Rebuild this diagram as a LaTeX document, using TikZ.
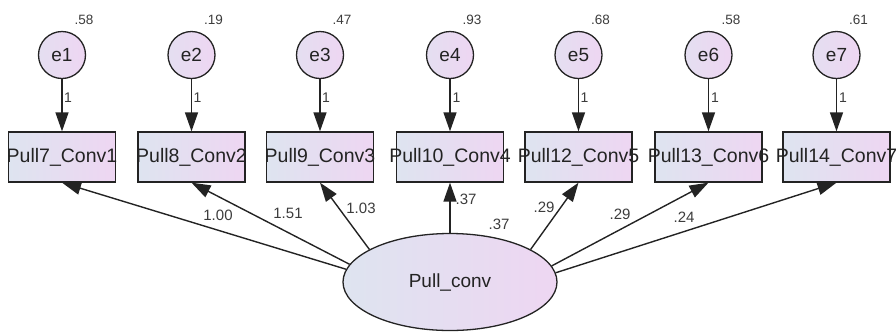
\documentclass[tikz,border=0pt]{standalone}
\usepackage{fontspec}
\setmainfont{Liberation Sans}
\usetikzlibrary{arrows.meta,shapes.geometric}
\definecolor{fillA}{RGB}{222,228,240}
\definecolor{fillB}{RGB}{238,214,242}
\definecolor{ink}{RGB}{35,35,35}
\definecolor{lab}{RGB}{60,60,60}
\newcommand{\zw}[1]{\makebox[0pt][c]{#1}}
\tikzset{
  obsbox/.style={draw=ink, line width=1.3pt, rectangle, minimum width=107pt, minimum height=50pt, inner sep=0pt,
    left color=fillA, right color=fillB, font=\fontsize{19.5}{19.5}\selectfont, text=ink},
  errc/.style={draw=ink, line width=1.3pt, circle, minimum size=47pt, inner sep=0pt,
    left color=fillA!60!fillB, right color=fillB, font=\fontsize{19}{19}\selectfont, text=ink},
  latent/.style={draw=ink, line width=1.3pt, ellipse, minimum width=214pt, minimum height=97pt, inner sep=0pt,
    left color=fillA, right color=fillB, font=\fontsize{19}{19}\selectfont, text=ink},
  arr/.style={draw=ink, line width=1.4pt, -{Triangle[length=19pt,width=13pt]}},
  varlab/.style={font=\fontsize{13.5}{13.5}\selectfont, text=lab, inner sep=0pt},
  onelab/.style={font=\fontsize{14}{14}\selectfont, text=lab, inner sep=0pt},
  wlab/.style={font=\fontsize{15}{15}\selectfont, text=lab, inner sep=0pt},
}
\begin{document}
\begin{tikzpicture}[x=1pt,y=-1pt]
\useasboundingbox (0,0) rectangle (896,333);
% observed boxes
\node[obsbox] (b1) at (62,157) {\zw{Pull7\_Conv1}};
\node[obsbox] (b2) at (191.5,157) {\zw{Pull8\_Conv2}};
\node[obsbox] (b3) at (320,157) {\zw{Pull9\_Conv3}};
\node[obsbox] (b4) at (450,157) {\zw{Pull10\_Conv4}};
\node[obsbox] (b5) at (578.5,157) {\zw{Pull12\_Conv5}};
\node[obsbox] (b6) at (708.5,157) {\zw{Pull13\_Conv6}};
\node[obsbox] (b7) at (836.5,157) {\zw{Pull14\_Conv7}};
% error circles
\node[errc] (e1) at (62,55) {e1};
\node[errc] (e2) at (191.5,55) {e2};
\node[errc] (e3) at (320,55) {e3};
\node[errc] (e4) at (450,55) {e4};
\node[errc] (e5) at (578.5,55) {e5};
\node[errc] (e6) at (708.5,55) {e6};
\node[errc] (e7) at (836.5,55) {e7};
% variances
\node[varlab] (v1) at (84,20) {.58};
\node[varlab] (v2) at (213.5,20) {.19};
\node[varlab] (v3) at (342,20) {.47};
\node[varlab] (v4) at (472,20) {.93};
\node[varlab] (v5) at (600.5,20) {.68};
\node[varlab] (v6) at (731,20) {.58};
\node[varlab] (v7) at (858.5,20) {.61};
% error arrows
\foreach \i in {1,...,7}{
  \draw[arr] (e\i) -- (b\i);
}
\node[onelab] (o1) at (68,98) {1};
\node[onelab] (o2) at (197.5,98) {1};
\node[onelab] (o3) at (326,98) {1};
\node[onelab] (o4) at (456.5,98) {1};
\node[onelab] (o5) at (584.5,98) {1};
\node[onelab] (o6) at (715,98) {1};
\node[onelab] (o7) at (843,98) {1};
% latent
\node[latent] (pc) at (450,282) {Pull\_conv};
\draw[arr] (pc.173) -- (b1.south);
\draw[arr] (pc.170) -- (b2.south);
\draw[arr] (pc.158) -- (b3.south);
\draw[arr] (pc.90) -- (b4.south);
\draw[arr] (pc.22) -- (b5.south);
\draw[arr] (pc.9) -- (b6.south);
\draw[arr] (pc.5) -- (b7.south);
% loadings
\node[wlab] (w1) at (218,215) {1.00};
\node[wlab] (w2) at (288,213) {1.51};
\node[wlab] (w3) at (361,208) {1.03};
\node[wlab] (w4) at (466,199) {.37};
\node[wlab] (w4b) at (499,224) {.37};
\node[wlab] (w5) at (544,207) {.29};
\node[wlab] (w6) at (620,214) {.29};
\node[wlab] (w7) at (684,217) {.24};
\end{tikzpicture}
\end{document}
